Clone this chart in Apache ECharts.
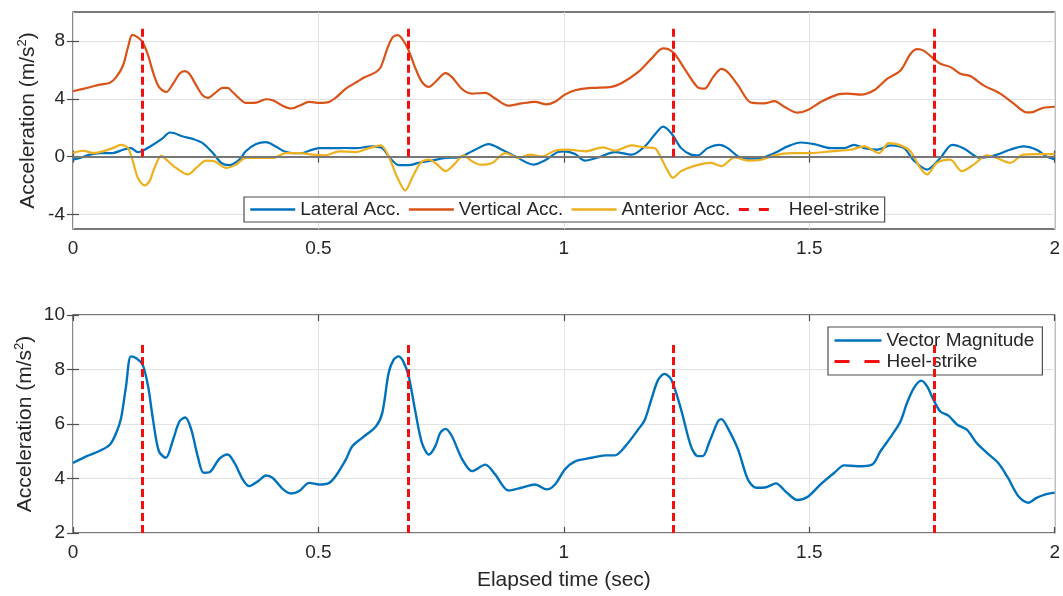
<!DOCTYPE html>
<html><head><meta charset="utf-8">
<script src="https://cdn.jsdelivr.net/npm/echarts@6/dist/echarts.min.js"></script>
<style>html,body{margin:0;padding:0;background:#fff}#c{width:1063px;height:596px}</style>
</head><body><div id="c"></div>
<script>
// ---- data (time in s, acceleration in m/s^2) ----
const lateral = [[0,-0.2],[0.014,-0.09],[0.034,0.14],[0.055,0.25],[0.081,0.25],[0.102,0.48],[0.118,0.59],[0.132,0.32],[0.142,0.41],[0.163,0.82],[0.183,1.28],[0.197,1.67],[0.207,1.62],[0.224,1.39],[0.244,1.23],[0.264,0.94],[0.285,0.25],[0.302,-0.43],[0.318,-0.59],[0.339,-0.21],[0.352,0.37],[0.373,0.87],[0.393,1.0],[0.413,0.71],[0.43,0.37],[0.447,0.25],[0.467,0.25],[0.481,0.41],[0.502,0.59],[0.529,0.59],[0.556,0.6],[0.576,0.59],[0.61,0.71],[0.63,0.59],[0.643,0.02],[0.664,-0.59],[0.684,-0.59],[0.704,-0.43],[0.731,-0.27],[0.759,-0.09],[0.786,-0.05],[0.813,0.37],[0.847,0.87],[0.874,0.48],[0.901,0.02],[0.938,-0.55],[0.961,-0.27],[0.988,0.32],[1.002,0.37],[1.023,0.18],[1.043,-0.27],[1.07,-0.05],[1.104,0.32],[1.138,0.14],[1.165,0.71],[1.185,1.51],[1.202,2.08],[1.219,1.62],[1.239,0.59],[1.259,0.14],[1.273,0.09],[1.293,0.59],[1.317,0.82],[1.334,0.59],[1.355,0.02],[1.375,-0.14],[1.402,-0.09],[1.429,0.25],[1.456,0.71],[1.483,0.98],[1.51,0.87],[1.544,0.59],[1.571,0.59],[1.591,0.82],[1.612,0.59],[1.639,0.48],[1.666,0.78],[1.693,0.59],[1.713,-0.27],[1.74,-0.89],[1.767,-0.09],[1.791,0.82],[1.814,0.59],[1.848,-0.09],[1.882,0.14],[1.909,0.48],[1.936,0.71],[1.963,0.48],[1.983,0.02],[2.0,-0.2]];
const vertical = [[0,4.52],[0.028,4.75],[0.055,4.98],[0.075,5.11],[0.088,5.5],[0.102,6.3],[0.112,7.56],[0.121,8.42],[0.132,8.24],[0.142,7.9],[0.153,7.0],[0.163,5.84],[0.175,4.82],[0.19,4.47],[0.204,5.05],[0.217,5.73],[0.227,5.91],[0.237,5.73],[0.251,4.93],[0.264,4.25],[0.275,4.06],[0.288,4.36],[0.305,4.75],[0.315,4.75],[0.325,4.47],[0.339,4.02],[0.352,3.72],[0.373,3.74],[0.393,3.97],[0.407,3.9],[0.427,3.52],[0.444,3.33],[0.461,3.52],[0.481,3.79],[0.502,3.72],[0.522,3.79],[0.536,4.1],[0.556,4.7],[0.58,5.2],[0.595,5.5],[0.617,5.84],[0.627,6.19],[0.64,7.44],[0.651,8.24],[0.661,8.4],[0.671,8.13],[0.684,7.33],[0.698,6.07],[0.711,5.16],[0.725,4.82],[0.738,5.16],[0.759,5.78],[0.772,5.5],[0.793,4.66],[0.813,4.36],[0.84,4.41],[0.86,4.02],[0.887,3.52],[0.914,3.68],[0.941,3.79],[0.965,3.61],[0.982,3.79],[1.002,4.29],[1.023,4.59],[1.057,4.75],[1.097,4.82],[1.118,5.09],[1.151,5.84],[1.178,6.76],[1.202,7.49],[1.212,7.44],[1.226,7.1],[1.246,6.07],[1.272,4.82],[1.287,4.7],[1.304,5.5],[1.321,6.07],[1.334,5.84],[1.355,4.93],[1.381,3.74],[1.408,3.68],[1.429,3.84],[1.449,3.45],[1.476,3.04],[1.497,3.22],[1.524,3.79],[1.557,4.29],[1.578,4.36],[1.605,4.29],[1.632,4.59],[1.659,5.39],[1.686,5.96],[1.706,7.1],[1.72,7.44],[1.733,7.33],[1.75,6.87],[1.767,6.42],[1.788,6.19],[1.808,5.73],[1.828,5.57],[1.855,4.93],[1.889,4.36],[1.916,3.68],[1.943,3.06],[1.957,3.1],[1.977,3.38],[2.0,3.45]];
const anterior = [[0,0.25],[0.021,0.41],[0.041,0.25],[0.061,0.37],[0.081,0.59],[0.098,0.82],[0.112,0.59],[0.122,-0.32],[0.132,-1.46],[0.146,-1.99],[0.156,-1.69],[0.166,-0.78],[0.18,0.07],[0.19,-0.21],[0.21,-0.78],[0.234,-1.23],[0.251,-0.78],[0.271,-0.27],[0.288,-0.32],[0.312,-0.78],[0.332,-0.55],[0.352,-0.09],[0.379,-0.09],[0.407,-0.09],[0.434,0.25],[0.461,0.25],[0.488,0.14],[0.515,0.09],[0.542,0.37],[0.576,0.32],[0.603,0.59],[0.627,0.78],[0.643,0.02],[0.661,-1.46],[0.677,-2.33],[0.691,-1.46],[0.708,-0.43],[0.725,-0.21],[0.742,-0.55],[0.759,-1.0],[0.776,-0.55],[0.796,0.09],[0.813,-0.32],[0.83,-0.55],[0.854,-0.43],[0.881,0.25],[0.908,-0.09],[0.931,0.14],[0.955,0.02],[0.982,0.41],[1.009,0.48],[1.043,0.37],[1.08,0.64],[1.104,0.41],[1.138,0.78],[1.165,0.64],[1.185,0.59],[1.198,-0.09],[1.212,-1.0],[1.222,-1.46],[1.239,-1.0],[1.273,-0.57],[1.3,-0.43],[1.321,-0.66],[1.348,-0.05],[1.375,-0.27],[1.402,-0.21],[1.429,0.09],[1.463,0.25],[1.503,0.25],[1.544,0.37],[1.585,0.48],[1.612,0.71],[1.642,0.25],[1.662,0.94],[1.686,0.78],[1.706,0.37],[1.726,-0.78],[1.74,-1.23],[1.76,-0.43],[1.787,-0.21],[1.811,-1.0],[1.835,-0.55],[1.862,0.09],[1.882,-0.09],[1.909,-0.43],[1.936,0.14],[1.963,0.18],[2.0,0.18]];
const magnitude = [[0,4.57],[0.028,4.82],[0.055,5.02],[0.075,5.24],[0.088,5.67],[0.098,6.22],[0.108,7.38],[0.118,8.48],[0.129,8.41],[0.142,8.17],[0.153,7.38],[0.163,6.16],[0.175,5.0],[0.189,4.76],[0.204,5.43],[0.217,6.1],[0.229,6.24],[0.241,5.79],[0.254,4.82],[0.266,4.21],[0.278,4.23],[0.298,4.72],[0.315,4.88],[0.329,4.57],[0.346,3.96],[0.359,3.72],[0.379,3.93],[0.393,4.11],[0.407,4.02],[0.427,3.62],[0.444,3.45],[0.461,3.54],[0.481,3.84],[0.502,3.78],[0.522,3.84],[0.536,4.11],[0.556,4.7],[0.569,5.18],[0.589,5.49],[0.617,5.91],[0.63,6.4],[0.643,7.87],[0.653,8.35],[0.663,8.48],[0.673,8.29],[0.684,7.74],[0.698,6.4],[0.711,5.3],[0.725,4.88],[0.738,5.18],[0.748,5.67],[0.759,5.82],[0.772,5.55],[0.793,4.7],[0.813,4.27],[0.84,4.51],[0.86,4.15],[0.887,3.56],[0.914,3.66],[0.941,3.78],[0.965,3.6],[0.982,3.78],[1.002,4.33],[1.023,4.63],[1.057,4.76],[1.084,4.85],[1.104,4.85],[1.125,5.18],[1.151,5.79],[1.165,6.16],[1.178,6.89],[1.192,7.62],[1.205,7.84],[1.219,7.62],[1.239,6.52],[1.259,5.18],[1.273,4.82],[1.283,4.82],[1.297,5.37],[1.314,6.1],[1.321,6.18],[1.334,5.85],[1.355,5.06],[1.375,3.96],[1.392,3.66],[1.412,3.68],[1.432,3.82],[1.453,3.5],[1.476,3.21],[1.497,3.33],[1.524,3.8],[1.551,4.21],[1.571,4.48],[1.598,4.45],[1.628,4.51],[1.645,5.0],[1.669,5.61],[1.686,6.1],[1.699,6.77],[1.713,7.32],[1.728,7.59],[1.74,7.38],[1.753,6.89],[1.767,6.46],[1.784,6.3],[1.801,5.98],[1.821,5.79],[1.841,5.3],[1.862,4.94],[1.885,4.57],[1.905,4.02],[1.926,3.35],[1.946,3.11],[1.963,3.29],[1.98,3.41],[2.0,3.48]];
const heelStrikes = [0.142, 0.682, 1.222, 1.754];
const heelTop = 9;          // heel-strike markers reach this value
const heelBottomTop = 0;    // start value in top panel
const heelBottomBottom = 2; // start value in bottom panel
const topYTicks = [-4, 0, 4, 8];
const topLegendNames = ['Lateral Acc.', 'Vertical Acc.', 'Anterior Acc.', 'Heel-strike'];
const bottomLegendNames = ['Vector Magnitude', 'Heel-strike'];

// ---- styling ----
const FONT = 'Liberation Sans, Arial, Helvetica, sans-serif';
const TXT = '#262626';
const AX = '#4d4d4d';
const GRIDC = '#e3e3e3';
const BLUE = '#0072BD', ORANGE = '#D95319', YELLOW = '#EDB120', RED = '#F01010';

const chart = echarts.init(document.getElementById('c'), null, {renderer: 'canvas'});

function xAxisMain(gi, showLabel) {
  return {
    type: 'value', gridIndex: gi, min: 0, max: 2, interval: 0.5, position: 'bottom',
    axisLine: {show: false},
    axisTick: {show: true, inside: true, length: 6, lineStyle: {color: AX, width: 1.2}},
    axisLabel: {show: true, color: TXT, fontSize: 19, fontFamily: FONT, margin: 10},
    splitLine: {show: true, lineStyle: {color: GRIDC, width: 1}},
    name: showLabel ? 'Elapsed time (sec)' : '',
    nameLocation: 'middle', nameGap: 37, nameMoveOverlap: false,
    nameTextStyle: {color: TXT, fontSize: 21, fontFamily: FONT}
  };
}
function xAxisTop(gi) {
  return {
    type: 'value', gridIndex: gi, min: 0, max: 2, interval: 0.5, position: 'top',
    axisLine: {show: false},
    axisTick: {show: true, inside: true, length: 6, lineStyle: {color: AX, width: 1.2}},
    axisLabel: {show: false}, splitLine: {show: false}
  };
}
const yName = 'Acceleration (m/s{sup|2})';
const yNameStyle = {
  color: TXT, fontSize: 21, fontFamily: FONT, lineHeight: 24,
  rich: {sup: {fontSize: 13, fontFamily: FONT, color: TXT, verticalAlign: 'top', lineHeight: 13}}
};
function legendItem(name, dash) {
  return name === 'Heel-strike'
    ? {name: name, lineStyle: {type: dash, width: 3, color: RED}}
    : {name: name};
}

const option = {
  animation: false,
  backgroundColor: '#fff',
  grid: [
    {left: 73, top: 12, width: 985, height: 217, show: true, borderColor: AX, borderWidth: 1.3, backgroundColor: 'transparent'},
    {left: 73, top: 315, width: 985, height: 218, show: true, borderColor: AX, borderWidth: 1.3, backgroundColor: 'transparent'}
  ],
  xAxis: [xAxisMain(0, false), xAxisTop(0), xAxisMain(1, true), xAxisTop(1)],
  yAxis: [
    {
      type: 'value', gridIndex: 0, min: -5, max: 10, position: 'left',
      axisLine: {show: false},
      axisTick: {show: true, inside: true, length: 6, customValues: topYTicks, lineStyle: {color: AX, width: 1.2}},
      axisLabel: {show: true, customValues: topYTicks, color: TXT, fontSize: 19, fontFamily: FONT, margin: 8},
      splitLine: {show: true, lineStyle: {color: GRIDC, width: 1}},
      name: yName, nameLocation: 'middle', nameGap: 33, nameRotate: 90, nameMoveOverlap: false, nameTextStyle: yNameStyle
    },
    {
      type: 'value', gridIndex: 0, min: -5, max: 10, position: 'right',
      axisLine: {show: false},
      axisTick: {show: true, inside: true, length: 6, customValues: topYTicks, lineStyle: {color: AX, width: 1.2}},
      axisLabel: {show: false}, splitLine: {show: false}
    },
    {
      type: 'value', gridIndex: 1, min: 2, max: 10, interval: 2, position: 'left',
      axisLine: {show: false},
      axisTick: {show: true, inside: true, length: 6, lineStyle: {color: AX, width: 1.2}},
      axisLabel: {show: true, color: TXT, fontSize: 19, fontFamily: FONT, margin: 8},
      splitLine: {show: true, lineStyle: {color: GRIDC, width: 1}},
      name: yName, nameLocation: 'middle', nameGap: 36, nameRotate: 90, nameMoveOverlap: false, nameTextStyle: yNameStyle
    },
    {
      type: 'value', gridIndex: 1, min: 2, max: 10, interval: 2, position: 'right',
      axisLine: {show: false},
      axisTick: {show: true, inside: true, length: 6, lineStyle: {color: AX, width: 1.2}},
      axisLabel: {show: false}, splitLine: {show: false}
    }
  ],
  legend: [
    {
      data: topLegendNames.map(n => legendItem(n, [10, 10, 10, 15])),
      left: 244, top: 197, orient: 'horizontal',
      itemWidth: 45, itemHeight: 14, itemGap: 7,
      padding: [3, 5, 3, 5],
      itemStyle: {opacity: 0},
      lineStyle: {width: 2.5},
      backgroundColor: '#fff', borderColor: AX, borderWidth: 1.2,
      textStyle: {color: TXT, fontSize: 19, fontFamily: FONT},
      selectedMode: false
    },
    {
      data: bottomLegendNames.map(n => legendItem(n, [15, 15])),
      left: 828, top: 327, orient: 'vertical',
      itemWidth: 47, itemHeight: 14, itemGap: 2,
      padding: [4, 8, 4, 5],
      itemStyle: {opacity: 0},
      lineStyle: {width: 2.5},
      backgroundColor: '#fff', borderColor: AX, borderWidth: 1.2,
      textStyle: {color: TXT, fontSize: 19, fontFamily: FONT},
      selectedMode: false
    }
  ],
  series: [
    {
      name: 'zero', type: 'line', xAxisIndex: 0, yAxisIndex: 0, data: [], silent: true,
      markLine: {silent: true, symbol: 'none', label: {show: false}, animation: false,
        lineStyle: {color: '#777', width: 2.2, type: 'solid'}, data: [{yAxis: 0}]}
    },
    {name: 'Lateral Acc.', type: 'line', xAxisIndex: 0, yAxisIndex: 0, data: lateral, symbol: 'none', smooth: 0.3,
      lineStyle: {color: BLUE, width: 2.2}, itemStyle: {color: BLUE}},
    {name: 'Vertical Acc.', type: 'line', xAxisIndex: 0, yAxisIndex: 0, data: vertical, symbol: 'none', smooth: 0.3,
      lineStyle: {color: ORANGE, width: 2.2}, itemStyle: {color: ORANGE}},
    {name: 'Anterior Acc.', type: 'line', xAxisIndex: 0, yAxisIndex: 0, data: anterior, symbol: 'none', smooth: 0.3,
      lineStyle: {color: YELLOW, width: 2.2}, itemStyle: {color: YELLOW}},
    {
      name: 'Heel-strike', type: 'line', xAxisIndex: 0, yAxisIndex: 0, data: [], symbol: 'none',
      lineStyle: {color: RED, width: 3, type: [8, 4]}, itemStyle: {color: RED},
      markLine: {silent: true, symbol: 'none', label: {show: false}, animation: false,
        lineStyle: {color: RED, width: 3, type: [8, 4]},
        data: heelStrikes.map(t => [{coord: [t, heelBottomTop]}, {coord: [t, heelTop]}])}
    },
    {name: 'Vector Magnitude', type: 'line', xAxisIndex: 2, yAxisIndex: 2, data: magnitude, symbol: 'none', smooth: 0.3,
      lineStyle: {color: BLUE, width: 2.4}, itemStyle: {color: BLUE}},
    {
      name: 'Heel-strike', type: 'line', xAxisIndex: 2, yAxisIndex: 2, data: [], symbol: 'none',
      lineStyle: {color: RED, width: 3, type: [8, 4]}, itemStyle: {color: RED},
      markLine: {silent: true, symbol: 'none', label: {show: false}, animation: false,
        lineStyle: {color: RED, width: 3, type: [8, 4]},
        data: heelStrikes.map(t => [{coord: [t, heelBottomBottom]}, {coord: [t, heelTop]}])}
    }
  ]
};
chart.setOption(option);
</script>
</body></html>
